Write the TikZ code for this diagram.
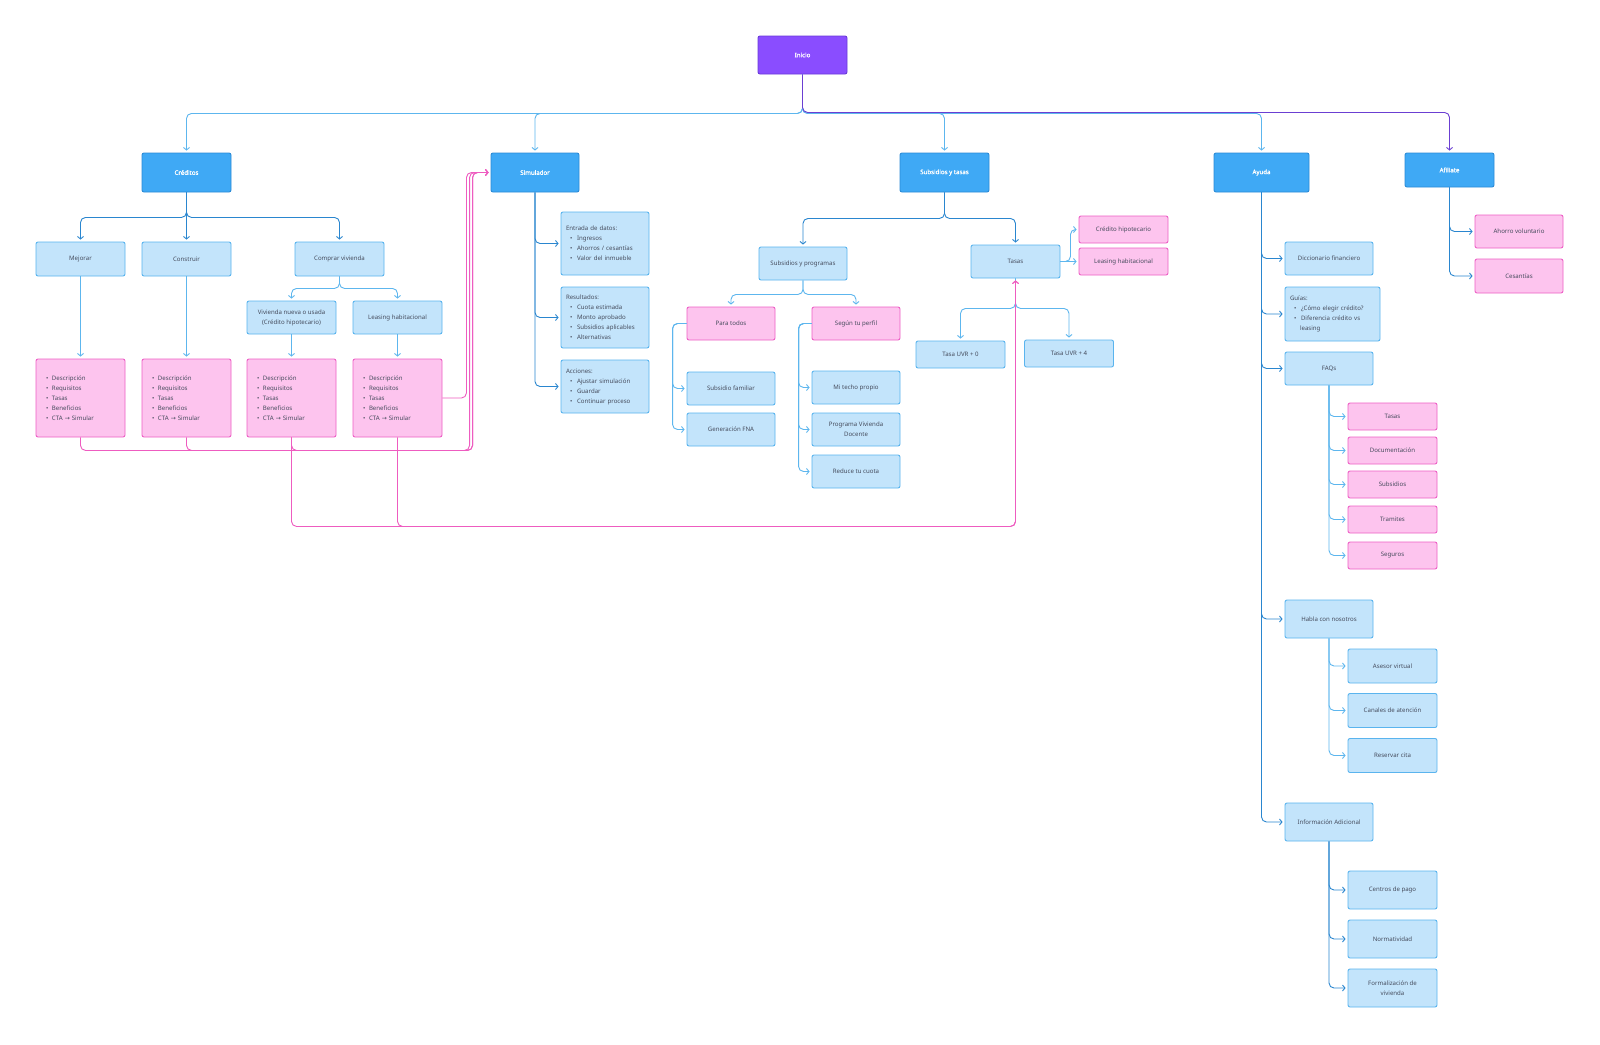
\documentclass[tikz,border=0pt]{standalone}
\usepackage{fontspec}
\setmainfont{Noto Sans}
\newfontfamily\arrfont{DejaVu Sans}
\newfontfamily\semib[FakeBold=1.2]{Noto Sans}
\usetikzlibrary{arrows.meta}
\definecolor{lvlfill}{HTML}{3FA9F5}
\definecolor{lvldraw}{HTML}{2B8AD6}
\definecolor{lbfill}{HTML}{C3E4FB}
\definecolor{lbdraw}{HTML}{5AB4EE}
\definecolor{pkfill}{HTML}{FDC4EE}
\definecolor{pkdraw}{HTML}{EE60C6}
\definecolor{inifill}{HTML}{8A4DFF}
\definecolor{inidraw}{HTML}{6A3AD8}
\definecolor{clight}{HTML}{5DB6EE}
\definecolor{cdark}{HTML}{2A86CF}
\definecolor{cpurple}{HTML}{6B3FD2}
\definecolor{cpink}{HTML}{EE5CC0}
\definecolor{txt}{HTML}{454B5C}
\newcommand\mybul[1]{\hspace*{4pt}\makebox[7pt][l]{•}#1}
\newcommand\pkbul[1]{\makebox[6pt][l]{•}#1}
\newcommand\arr{{\arrfont →}}
\begin{document}
\begin{tikzpicture}[x=1pt,y=-1pt,
 bx/.style={rectangle, rounded corners=2pt, line width=0.9pt, inner sep=2pt, font=\fontsize{6.1}{10}\selectfont, text=txt},
 lvl/.style={bx, fill=lvlfill, draw=lvldraw, text=white, font=\fontsize{6.1}{10}\selectfont\semib, minimum width=89pt, minimum height=39pt},
 lb/.style={bx, fill=lbfill, draw=lbdraw, minimum width=88pt, minimum height=33pt, align=center},
 pk/.style={bx, fill=pkfill, draw=pkdraw, minimum width=89pt, minimum height=27pt, align=center},
 lst/.style={align=left, inner xsep=10pt, text width=69pt, minimum height=78pt},
 sml/.style={align=left, inner xsep=5pt, text width=78pt},
 conn/.style={line width=0.9pt, rounded corners=5pt, shorten >=2pt, -{Straight Barb[length=2.5pt,width=6pt]}},
 cl/.style={conn, draw=clight}, cd/.style={conn, draw=cdark}, cp/.style={conn, draw=cpink}, cv/.style={conn, draw=cpurple}]
\useasboundingbox (0,0) rectangle (1600,1044);
\fill[white] (0,0) rectangle (1600,1044);

% top
\node[bx, fill=inifill, draw=inidraw, text=white, font=\fontsize{6.1}{10}\selectfont\semib, minimum width=89pt, minimum height=38pt] (inicio) at (802.5,55) {Inicio};
\node[lvl] (creditos) at (186.5,172.5) {Créditos};
\node[lvl, minimum width=88pt] (sim) at (535,172.5) {Simulador};
\node[lvl] (syt) at (944.5,172.5) {Subsidios y tasas};
\node[lvl, minimum width=95pt] (ayuda) at (1261.5,172.5) {Ayuda};
\node[lvl, minimum height=34pt] (afiliate) at (1449.5,170) {Afiliate};

% creditos
\node[lb, minimum width=89pt, minimum height=34pt] (mejorar) at (80.5,259) {Mejorar};
\node[lb, minimum width=89pt, minimum height=34pt] (construir) at (186.5,259) {Construir};
\node[lb, minimum width=89pt, minimum height=34pt] (comprar) at (339.5,259) {Comprar vivienda};
\node[lb, minimum width=89pt] (vivienda) at (291.5,317.5) {Vivienda nueva o usada\\(Crédito hipotecario)};
\node[lb, minimum width=89pt] (leasing) at (397.5,317.5) {Leasing habitacional};
\node[pk, lst] (mejP) at (80.5,398) {\pkbul{Descripción}\\\pkbul{Requisitos}\\\pkbul{Tasas}\\\pkbul{Beneficios}\\\pkbul{CTA \arr\ Simular}};
\node[pk, lst] (conP) at (186.5,398) {\pkbul{Descripción}\\\pkbul{Requisitos}\\\pkbul{Tasas}\\\pkbul{Beneficios}\\\pkbul{CTA \arr\ Simular}};
\node[pk, lst] (vivP) at (291.5,398) {\pkbul{Descripción}\\\pkbul{Requisitos}\\\pkbul{Tasas}\\\pkbul{Beneficios}\\\pkbul{CTA \arr\ Simular}};
\node[pk, lst] (leasP) at (397.5,398) {\pkbul{Descripción}\\\pkbul{Requisitos}\\\pkbul{Tasas}\\\pkbul{Beneficios}\\\pkbul{CTA \arr\ Simular}};

% simulador
\node[lb, sml, minimum height=63pt] (entrada) at (605,243.5) {Entrada de datos:\\\mybul{Ingresos}\\\mybul{Ahorros / cesantías}\\\mybul{Valor del inmueble}};
\node[lb, sml, minimum height=61pt] (result) at (605,317.5) {Resultados:\\\mybul{Cuota estimada}\\\mybul{Monto aprobado}\\\mybul{Subsidios aplicables}\\\mybul{Alternativas}};
\node[lb, sml, minimum height=53pt] (acciones) at (605,386.5) {Acciones:\\\mybul{Ajustar simulación}\\\mybul{Guardar}\\\mybul{Continuar proceso}};

% subsidios y tasas
\node[lb] (syp) at (803,263.5) {Subsidios y programas};
\node[pk, minimum width=88pt, minimum height=33pt] (paratodos) at (731,323.5) {Para todos};
\node[pk, minimum width=88pt, minimum height=33pt] (segun) at (856,323.5) {Según tu perfil};
\node[lb] (subfam) at (731,388.5) {Subsidio familiar};
\node[lb] (genfna) at (731,429.5) {Generación FNA};
\node[lb] (mitecho) at (856,387.5) {Mi techo propio};
\node[lb] (progdoc) at (856,429.5) {Programa Vivienda\\Docente};
\node[lb] (reduce) at (856,471.5) {Reduce tu cuota};
\node[lb, minimum width=89pt] (tasas) at (1015.5,261.5) {Tasas};
\node[pk] (credhip) at (1123.5,229.5) {Crédito hipotecario};
\node[pk] (leasT) at (1123.5,261.5) {Leasing habitacional};
\node[lb, minimum width=89pt, minimum height=27pt] (uvr0) at (960.5,354.5) {Tasa UVR + 0};
\node[lb, minimum width=89pt, minimum height=27pt] (uvr4) at (1069,353.5) {Tasa UVR + 4};

% ayuda
\node[lb] (dicc) at (1329,258.5) {Diccionario financiero};
\node[lb, align=left, inner xsep=5pt, text width=85pt, minimum height=54pt] (guias) at (1332.5,314) {Guías:\\\mybul{¿Cómo elegir crédito?}\\\mybul{Diferencia crédito vs}\\\hspace*{10pt}leasing};
\node[lb] (faqs) at (1329,368.5) {FAQs};
\node[pk] (tasasF) at (1392.5,416.5) {Tasas};
\node[pk] (docF) at (1392.5,450.5) {Documentación};
\node[pk] (subsF) at (1392.5,484.5) {Subsidios};
\node[pk] (tramF) at (1392.5,519.5) {Tramites};
\node[pk] (segF) at (1392.5,555.5) {Seguros};
\node[lb, minimum height=38pt] (habla) at (1329,619) {Habla con nosotros};
\node[lb, minimum width=89pt, minimum height=34pt] (asesor) at (1392.5,666) {Asesor virtual};
\node[lb, minimum width=89pt, minimum height=34pt] (canales) at (1392.5,710.5) {Canales de atención};
\node[lb, minimum width=89pt, minimum height=34pt] (reservar) at (1392.5,755.5) {Reservar cita};
\node[lb, minimum height=38pt] (info) at (1329,822) {Información Adicional};
\node[lb, minimum width=89pt, minimum height=38pt] (centros) at (1392.5,890) {Centros de pago};
\node[lb, minimum width=89pt, minimum height=38pt] (normat) at (1392.5,939) {Normatividad};
\node[lb, minimum width=89pt, minimum height=38pt] (formal) at (1392.5,988) {Formalización de\\vivienda};

% afiliate
\node[pk, minimum width=88pt, minimum height=33pt] (ahorro) at (1519,231.5) {Ahorro voluntario};
\node[pk, minimum width=88pt, minimum height=34pt] (cesantias) at (1519,276) {Cesantías};

% connectors from inicio
\draw[cl] (inicio.south) -- ++(0,39) -| (creditos.north);
\draw[cl] (inicio.south) -- ++(0,39) -| (sim.north);
\draw[cl] (inicio.south) -- ++(0,39) -| (syt.north);
\draw[cl] (inicio.south) -- ++(0,39) -| (ayuda.north);
\draw[cv] (inicio.south) -- ++(0,38) -| (afiliate.north);

% creditos
\draw[cd] (creditos.south) -- ++(0,25) -| (mejorar.north);
\draw[cd] (creditos.south) -- (construir.north);
\draw[cd] (creditos.south) -- ++(0,25) -| (comprar.north);
\draw[cl] (comprar.south) -- ++(0,12) -| (vivienda.north);
\draw[cl] (comprar.south) -- ++(0,12) -| (leasing.north);
\draw[cl] (mejorar.south) -- (mejP.north);
\draw[cl] (construir.south) -- (conP.north);
\draw[cl] (vivienda.south) -- (vivP.north);
\draw[cl] (leasing.south) -- (leasP.north);

% simulador
\draw[cd] (sim.south) |- (entrada.west);
\draw[cd] (sim.south) |- (result.west);
\draw[cd] (sim.south) |- (acciones.west);

% subsidios y tasas
\draw[cd] (syt.south) -- ++(0,26) -| (syp.north);
\draw[cd] (syt.south) -- ++(0,26) -| (tasas.north);
\draw[cl] (syp.south) -- ++(0,14) -| (paratodos.north);
\draw[cl] (syp.south) -- ++(0,14) -| (segun.north);
\draw[cl] (paratodos.west) -- ++(-14,0) |- (subfam.west);
\draw[cl] (paratodos.west) -- ++(-14,0) |- (genfna.west);
\draw[cl] (segun.west) -- ++(-13,0) |- (mitecho.west);
\draw[cl] (segun.west) -- ++(-13,0) |- (progdoc.west);
\draw[cl] (segun.west) -- ++(-13,0) |- (reduce.west);
\draw[cl] (tasas.east) -- ++(10,0) |- (credhip.west);
\draw[cl] (tasas.east) -- (leasT.west);
\draw[cl] (tasas.south) -- ++(0,30) -| (uvr0.north);
\draw[cl] (tasas.south) -- ++(0,30) -| (uvr4.north);

% ayuda
\draw[cd] (ayuda.south) |- (dicc.west);
\draw[cd] (ayuda.south) |- (guias.west);
\draw[cd] (ayuda.south) |- (faqs.west);
\draw[cd] (ayuda.south) |- (habla.west);
\draw[cd] (ayuda.south) |- (info.west);
\draw[cl] (faqs.south) |- (tasasF.west);
\draw[cl] (faqs.south) |- (docF.west);
\draw[cl] (faqs.south) |- (subsF.west);
\draw[cl] (faqs.south) |- (tramF.west);
\draw[cl] (faqs.south) |- (segF.west);
\draw[cl] (habla.south) |- (asesor.west);
\draw[cl] (habla.south) |- (canales.west);
\draw[cl] (habla.south) |- (reservar.west);
\draw[cd] (info.south) |- (centros.west);
\draw[cd] (info.south) |- (normat.west);
\draw[cd] (info.south) |- (formal.west);

% afiliate
\draw[cd] (afiliate.south) |- (ahorro.west);
\draw[cd] (afiliate.south) |- (cesantias.west);

% pink connectors
\draw[cp] (leasP.east) -- ++(24,0) |- (sim.west);
\draw[cp] (mejP.south) -- ++(0,13) -| ([xshift=-18pt]sim.west) -- (sim.west);
\draw[cp] (conP.south) -- ++(0,13) -| ([xshift=-21pt]sim.west) -- (sim.west);
\draw[cp] (vivP.south) -- ++(0,13) -| ([xshift=-18pt]sim.west) -- (sim.west);
\draw[cp] (vivP.south) -- ++(0,89) -| (tasas.south);
\draw[cp] (leasP.south) -- ++(0,89) -| (tasas.south);
\end{tikzpicture}
\end{document}
